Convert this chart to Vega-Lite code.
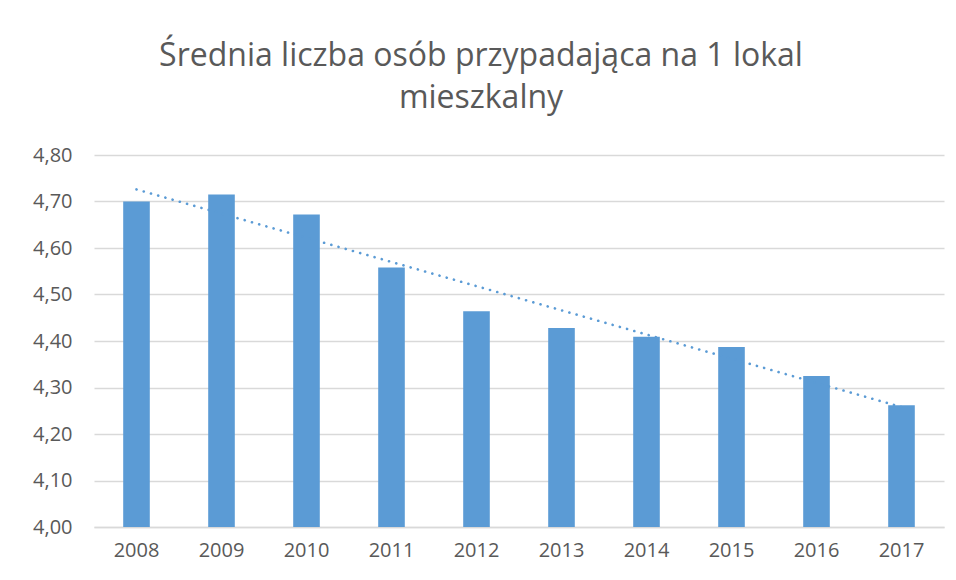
{
  "$schema": "https://vega.github.io/schema/vega-lite/v6.json",
  "autosize": {"type": "none"},
  "padding": {"left": 94, "top": 155, "right": 12, "bottom": 53},
  "width": 850,
  "height": 372,
  "background": "white",
  "title": {
    "text": ["Średnia liczba osób przypadająca na 1 lokal", "mieszkalny"],
    "font": "Open Sans",
    "fontWeight": 400,
    "fontSize": 32,
    "color": "#595959",
    "anchor": "middle",
    "dx": -38,
    "offset": 30,
    "lineHeight": 42
  },
  "data": {
    "values": [
      {"year": 2008, "value": 4.70},
      {"year": 2009, "value": 4.715},
      {"year": 2010, "value": 4.672},
      {"year": 2011, "value": 4.558},
      {"year": 2012, "value": 4.464},
      {"year": 2013, "value": 4.428},
      {"year": 2014, "value": 4.409},
      {"year": 2015, "value": 4.387},
      {"year": 2016, "value": 4.325},
      {"year": 2017, "value": 4.262}
    ]
  },
  "encoding": {
    "x": {
      "field": "year",
      "type": "ordinal",
      "scale": {"paddingInner": 0.687, "paddingOuter": 0.3435},
      "axis": {
        "title": null,
        "labelAngle": 0,
        "labelFont": "Open Sans",
        "labelFontSize": 20,
        "labelColor": "#595959",
        "labelPadding": 13,
        "ticks": false,
        "domainColor": "#d9d9d9",
        "domainWidth": 1.5
      }
    },
    "y": {
      "field": "value",
      "type": "quantitative",
      "scale": {"domain": [4.0, 4.8], "nice": false, "zero": false},
      "axis": {
        "title": null,
        "values": [4.0, 4.1, 4.2, 4.3, 4.4, 4.5, 4.6, 4.7, 4.8],
        "labelExpr": "replace(format(datum.value, '.2f'), '.', ',')",
        "labelFont": "Open Sans",
        "labelFontSize": 20,
        "labelColor": "#595959",
        "labelPadding": 22,
        "ticks": false,
        "domain": false,
        "grid": true,
        "gridColor": "#d9d9d9",
        "gridWidth": 1.5
      }
    }
  },
  "layer": [
    {
      "mark": {"type": "bar", "color": "#5b9bd5"},
      "encoding": {"y2": {"datum": 4.0}}
    },
    {
      "transform": [{"regression": "value", "on": "year", "method": "linear"}],
      "mark": {
        "type": "line",
        "color": "#5b9bd5",
        "strokeWidth": 2.6,
        "strokeDash": [0.1, 7.4],
        "strokeCap": "round"
      }
    }
  ],
  "config": {"view": {"stroke": null}}
}
